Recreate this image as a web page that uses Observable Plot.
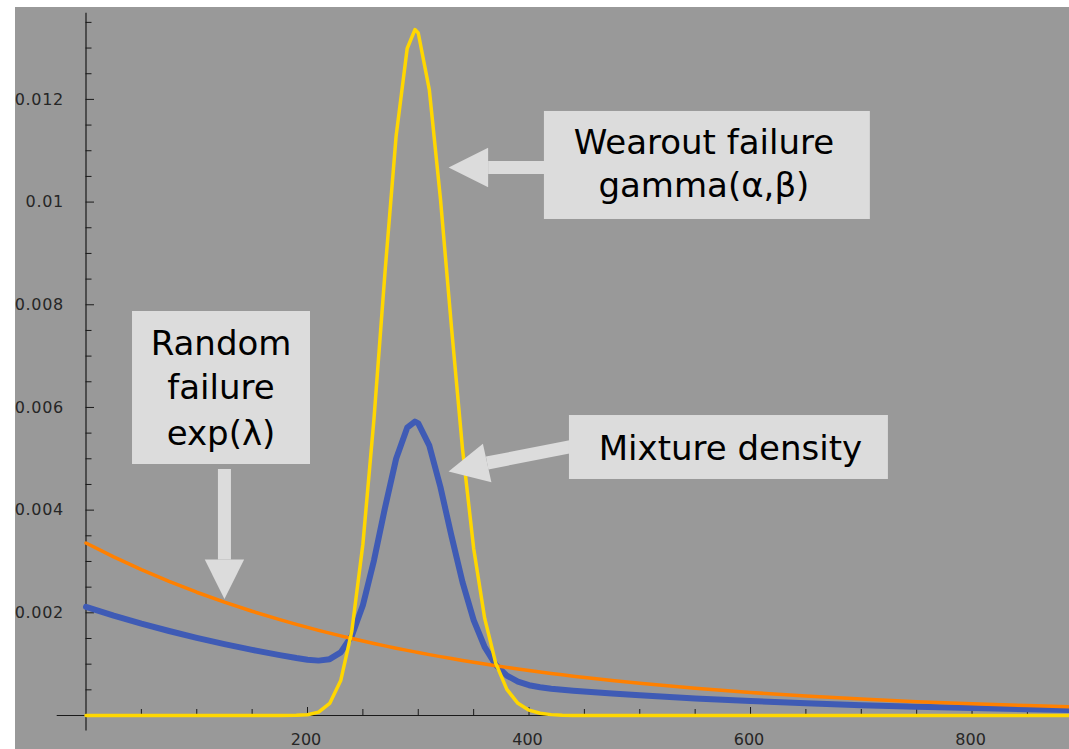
<!DOCTYPE html>
<html>
<head>
<meta charset="utf-8">
<script src="https://cdn.jsdelivr.net/npm/d3@7"></script>
<script src="https://cdn.jsdelivr.net/npm/@observablehq/plot@0.6"></script>
<style>
  html, body { margin: 0; padding: 0; background: #ffffff; }
  #wrap { position: relative; width: 1069px; height: 749px; overflow: hidden; }
  #bg { position: absolute; left: 15px; top: 7px; right: 0; bottom: 0; background: #999999; }
  #chart { position: absolute; left: 0; top: 0; }
  #chart svg { background: transparent; max-width: none; }
  #chart svg g[aria-label="y-axis tick label"] text { letter-spacing: 0.7px; }
</style>
</head>
<body>
<div id="wrap"><div id="bg"></div><div id="chart"></div></div>
<script>
// ---- data ----
const xValues = [0,25,50,75,100,125,150,175,190,200,210,220,230,240,250,260,270,280,290,297,300,310,320,330,340,350,360,370,380,390,400,410,420,430,440,475,500,550,600,650,700,750,800,850,888];

const randomFailure = [0.00336,0.003089,0.00284,0.002612,0.002401,0.002208,0.00203,0.001866,0.001775,0.001716,0.001659,0.001604,0.001551,0.0015,0.001451,0.001403,0.001356,0.001311,0.001268,0.001239,0.001226,0.001186,0.001147,0.001109,0.001072,0.001037,0.001002,0.000969,0.000937,0.000906,0.000876,0.000847,0.000819,0.000792,0.000766,0.000681,0.000626,0.000529,0.000448,0.000378,0.00032,0.00027,0.000229,0.000193,0.00017];

const wearoutFailure = [0,0,0,0,0,0,0,0,0.000003,0.000015,0.000066,0.000234,0.000681,0.001643,0.003335,0.005774,0.008641,0.011285,0.012991,0.01336,0.013293,0.012184,0.010073,0.00756,0.005182,0.003259,0.001891,0.001016,0.000508,0.000237,0.000104,0.000043,0.000017,0.000006,0.000002,0,0,0,0,0,0,0,0,0,0];

const mixtureDensity = [0.002117,0.001946,0.001789,0.001646,0.001513,0.001391,0.001279,0.001176,0.001119,0.001086,0.001069,0.001097,0.001229,0.001553,0.002148,0.00302,0.004051,0.005001,0.005606,0.005724,0.00569,0.005255,0.00445,0.003496,0.002592,0.001859,0.001331,0.000986,0.000778,0.000659,0.00059,0.00055,0.000522,0.000501,0.000483,0.000429,0.000394,0.000333,0.000282,0.000238,0.000202,0.00017,0.000144,0.000122,0.000107];

const yTicksMajor = [0.002,0.004,0.006,0.008,0.01,0.012];
const yTickLabels = ["0.002","0.004","0.006","0.008","0.01","0.012"];
const yTicksMinor = [0.0005,0.001,0.0015,0.0025,0.003,0.0035,0.0045,0.005,0.0055,0.0065,0.007,0.0075,0.0085,0.009,0.0095,0.0105,0.011,0.0115,0.0125,0.013,0.0135];
const xTicksMajor = [200,400,600,800];
const xTickLabels = ["200","400","600","800"];
const xTicksMinor = [50,100,150,250,300,350,450,500,550,650,700,750,850];

// annotation boxes, texts and arrows (data coordinates)
const boxes = [
  {name: "wearout", x1: 413.9, x2: 708.2, y1: 0.009661, y2: 0.011765},
  {name: "random",  x1: 42.0,  x2: 202.7, y1: 0.004889, y2: 0.007869},
  {name: "mixture", x1: 436.5, x2: 724.5, y1: 0.004597, y2: 0.005843}
];
const annotationLines = [
  {text: "Wearout failure", x: 557.9, y: 0.010927},
  {text: "gamma(α,β)",      x: 557.9, y: 0.010090},
  {text: "Random",          x: 121.9, y: 0.007012},
  {text: "failure",         x: 121.9, y: 0.006155},
  {text: "exp(λ)",          x: 121.9, y: 0.005259},
  {text: "Mixture density", x: 581.9, y: 0.004967}
];
const arrowShafts = [
  {x1: 363.1, y1: 0.010674, x2: 420.0, y2: 0.010674},
  {x1: 125.0, y1: 0.004800, x2: 125.0, y2: 0.003039},
  {x1: 362.2, y1: 0.004918, x2: 440.0, y2: 0.005248}
];
const arrowHeads = [
  {x: 363.1, y: 0.010674, rotate: 270},
  {x: 125.0, y: 0.003039, rotate: 180},
  {x: 362.2, y: 0.004918, rotate: 257.5}
];

const table = xValues.map((x, i) => ({x, exp: randomFailure[i], gamma: wearoutFailure[i], mix: mixtureDensity[i]}));

const boxFill = "#dcdcdc";
const axisColor = "#1a1a1a";
const tickFont = "DejaVu Sans";

const chart = Plot.plot({
  width: 1069,
  height: 749,
  marginLeft: 85.5,
  marginRight: 0,
  marginTop: 7,
  marginBottom: 34,
  style: {background: "transparent", overflow: "visible"},
  x: {domain: [0, 888]},
  y: {domain: [0, 0.01379]},
  marks: [
    // axis lines
    Plot.ruleX([0], {y1: -0.0003, y2: 0.01368, stroke: axisColor, strokeWidth: 1.2}),
    Plot.ruleY([0], {x1: -26, x2: 888, stroke: axisColor, strokeWidth: 1.2}),
    // ticks (pointing inward)
    Plot.axisY(yTicksMinor, {tickSize: -6, tickFormat: () => "", label: null, stroke: axisColor}),
    Plot.axisY(yTicksMajor, {tickSize: -8.5, tickFormat: () => "", label: null, stroke: axisColor}),
    Plot.axisY(yTicksMajor, {tickSize: 0, tickPadding: 22, label: null,
      tickFormat: d => yTickLabels[yTicksMajor.indexOf(d)],
      fontSize: 16, fontFamily: tickFont, fill: "#262626"}),
    Plot.axisX(xTicksMinor, {tickSize: -6, tickFormat: () => "", label: null, stroke: axisColor}),
    Plot.axisX(xTicksMajor, {tickSize: -8, tickFormat: () => "", label: null, stroke: axisColor}),
    Plot.axisX(xTicksMajor, {tickSize: 0, tickPadding: 18, label: null, dx: -1.5,
      tickFormat: d => xTickLabels[xTicksMajor.indexOf(d)],
      fontSize: 16, fontFamily: tickFont, fill: "#262626"}),
    // curves
    Plot.line(table, {x: "x", y: "mix", stroke: "#3f5bb5", strokeWidth: 6, curve: "linear"}),
    Plot.line(table, {x: "x", y: "exp", stroke: "#ff8000", strokeWidth: 3.5, curve: "linear"}),
    Plot.line(table, {x: "x", y: "gamma", stroke: "#ffd700", strokeWidth: 3.5, curve: "linear"}),
    // annotation arrows and boxes
    Plot.link(arrowShafts, {x1: "x1", y1: "y1", x2: "x2", y2: "y2", stroke: boxFill, strokeWidth: 13, strokeLinecap: "butt"}),
    Plot.vector(arrowHeads, {x: "x", y: "y", rotate: "rotate", length: 39.5, r: 19.7, anchor: "start", shape: "spike", fill: boxFill, stroke: "none"}),
    Plot.rect(boxes, {x1: "x1", x2: "x2", y1: "y1", y2: "y2", fill: boxFill}),
    Plot.text(annotationLines, {x: "x", y: "y", text: "text", lineAnchor: "bottom", textAnchor: "middle",
      fontSize: 34, fontFamily: "DejaVu Sans", fill: "#000"})
  ]
});
document.getElementById("chart").appendChild(chart);
</script>
</body>
</html>
